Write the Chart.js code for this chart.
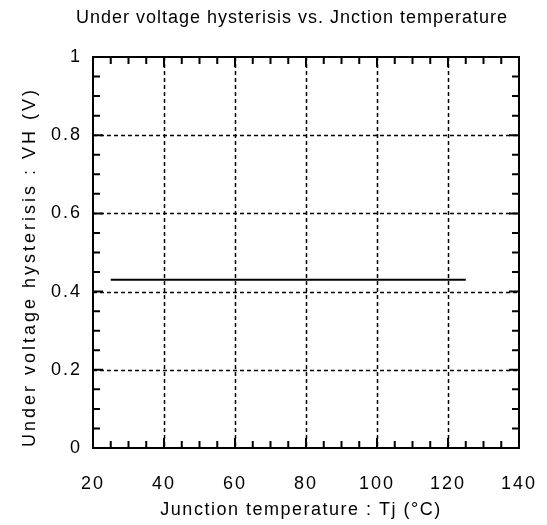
<!DOCTYPE html>
<html>
<head>
<meta charset="utf-8">
<script src="https://cdn.jsdelivr.net/npm/chart.js@4/dist/chart.umd.min.js"></script>
<style>
  html, body { margin: 0; padding: 0; background: #fff; }
  #wrap { width: 547px; height: 525px; }
</style>
</head>
<body>
<div id="wrap"><canvas id="chart"></canvas></div>
<script>
// data
const temps = [25, 125];          // Tj (°C)
const hysteresis = [0.43, 0.43];  // VH (V)
const xTicks = [20, 40, 60, 80, 100, 120, 140];
const yTicks = [0, 0.2, 0.4, 0.6, 0.8, 1];

const FONT = "'Liberation Sans', Arial, sans-serif";

// grid, frame and inward tick marks like the old datasheet plot
const framePlugin = {
    id: 'frame',
    beforeDraw(chart) {
        chart.ctx.letterSpacing = '2px'; // tick labels are spaced out
    },
    beforeDatasetsDraw(chart) {
        const { ctx, chartArea: a, scales: { x, y } } = chart;
        ctx.save();
        ctx.letterSpacing = '0px';
        ctx.strokeStyle = '#000';
        ctx.lineWidth = 1.5;
        ctx.setLineDash([4, 3]);
        ctx.beginPath();
        xTicks.slice(1, -1).forEach(v => {
            const px = Math.round(x.getPixelForValue(v)) + 0.5;
            ctx.moveTo(px, a.top); ctx.lineTo(px, a.bottom);
        });
        yTicks.slice(1, -1).forEach(v => {
            const py = Math.round(y.getPixelForValue(v)) + 0.5;
            ctx.moveTo(a.left, py); ctx.lineTo(a.right, py);
        });
        ctx.stroke();
        ctx.restore();
    },
    afterDatasetsDraw(chart) {
        const { ctx, chartArea: a, scales: { x, y } } = chart;
        ctx.save();
        ctx.strokeStyle = '#000';
        ctx.lineWidth = 2;
        ctx.setLineDash([]);
        ctx.beginPath();
        // minor every 5 °C / 0.05 V, major on labels
        for (let v = 20; v <= 140; v += 5) {
            const px = x.getPixelForValue(v);
            const len = v % 20 === 0 ? 10 : 7;
            ctx.moveTo(px, a.bottom); ctx.lineTo(px, a.bottom - len);
            ctx.moveTo(px, a.top); ctx.lineTo(px, a.top + len);
        }
        for (let i = 0; i <= 20; i++) {
            const py = y.getPixelForValue(i * 0.05);
            const len = i % 4 === 0 ? 10 : 7;
            ctx.moveTo(a.left, py); ctx.lineTo(a.left + len, py);
            ctx.moveTo(a.right, py); ctx.lineTo(a.right - len, py);
        }
        ctx.stroke();
        ctx.strokeRect(a.left, a.top, a.right - a.left, a.bottom - a.top);
        ctx.restore();
    },
    afterDraw(chart) {
        const { ctx } = chart;
        ctx.save();
        ctx.fillStyle = '#000';
        ctx.textAlign = 'center';
        ctx.textBaseline = 'middle';
        ctx.font = '18px ' + FONT;
        ctx.letterSpacing = '1px';
        ctx.fillText('Under voltage hysterisis vs. Jnction temperature', 292, 18);
        ctx.letterSpacing = '1.5px';
        ctx.fillText('Junction temperature : Tj (°C)', 301, 510);
        ctx.translate(30, 267);
        ctx.rotate(-Math.PI / 2);
        ctx.letterSpacing = '3px';
        ctx.fillText('Under voltage hysterisis : VH (V)', 0, 0);
        ctx.restore();
    }
};

new Chart(document.getElementById('chart'), {
    type: 'scatter',
    data: {
        datasets: [{
            data: temps.map((t, i) => ({ x: t, y: hysteresis[i] })),
            showLine: true,
            borderColor: '#000',
            borderWidth: 2,
            pointRadius: 0,
            fill: false
        }]
    },
    options: {
        responsive: true,
        maintainAspectRatio: false,
        animation: false,
        layout: { padding: { top: 57, right: 28, left: 0, bottom: 0 } },
        plugins: {
            legend: { display: false },
            tooltip: { enabled: false }
        },
        scales: {
            x: {
                min: 20, max: 140,
                afterFit(s) { s.height = 77; s.paddingLeft = 0; s.paddingRight = 0; },
                afterBuildTicks(s) { s.ticks = xTicks.map(v => ({ value: v })); },
                grid: { display: false, drawTicks: false },
                border: { display: false },
                ticks: { color: '#000', font: { family: FONT, size: 18 }, padding: 25, maxRotation: 0,
                         callback: v => String(v) }
            },
            y: {
                min: 0, max: 1,
                afterFit(s) { s.width = 93; s.paddingTop = 0; s.paddingBottom = 0; },
                afterBuildTicks(s) { s.ticks = yTicks.map(v => ({ value: v })); },
                grid: { display: false, drawTicks: false },
                border: { display: false },
                ticks: { color: '#000', font: { family: FONT, size: 18 }, padding: 11,
                         callback: v => String(v) }
            }
        }
    },
    plugins: [framePlugin]
});
</script>
</body>
</html>
